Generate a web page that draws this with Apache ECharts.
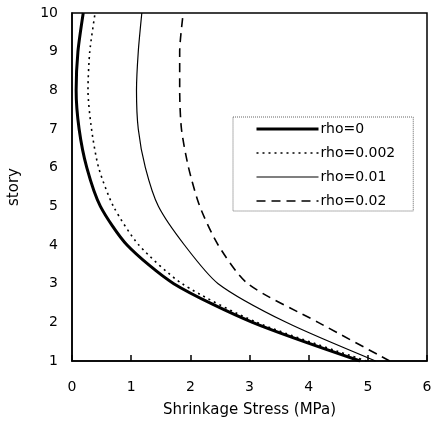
<!DOCTYPE html>
<html><head><meta charset="utf-8">
<script src="https://cdn.jsdelivr.net/npm/echarts@6/dist/echarts.min.js"></script>
<style>html,body{margin:0;padding:0;background:#fff}#c{width:433px;height:430px}</style>
</head><body><div id="c"></div>
<script>
var stories = [1,2,3,4,5,6,7,8,9,10];
var rho0    = [4.87,3.05,1.72,0.93,0.48,0.25,0.12,0.07,0.10,0.19];
var rho0002 = [4.98,3.12,1.86,1.13,0.70,0.45,0.33,0.27,0.30,0.39];
var rho001  = [5.13,3.62,2.47,1.90,1.46,1.24,1.12,1.09,1.12,1.18];
var rho002  = [5.37,4.16,2.97,2.47,2.16,1.97,1.85,1.82,1.82,1.88];
var seriesNames = ['rho=0','rho=0.002','rho=0.01','rho=0.02'];
var xTicks = [0,1,2,3,4,5,6];

function pts(arr){ return arr.map(function(v,i){ return [v, stories[i]]; }); }
var F = 'DejaVu Sans, Liberation Sans, sans-serif';
var styles = [
  {color:'#000',width:3},
  {color:'#000',width:1.6,type:[2,4]},
  {color:'#000',width:1.2},
  {color:'#000',width:1.6,type:[9,6]}
];
var chart = echarts.init(document.getElementById('c'), null, {renderer:'canvas'});
chart.setOption({
  animation:false,
  backgroundColor:'#fff',
  grid:{left:72,right:6,top:13,bottom:69,show:true,borderColor:'#000',borderWidth:1.5,containLabel:false,outerBoundsMode:'none'},
  xAxis:{type:'value',min:xTicks[0],max:xTicks[xTicks.length-1],interval:1,
    name:'Shrinkage Stress (MPa)',nameLocation:'middle',nameGap:42,
    nameTextStyle:{fontFamily:F,fontSize:15,color:'#000'},
    axisLine:{show:true,onZero:false,lineStyle:{color:'#000',width:1.5}},
    axisTick:{show:true,inside:false,length:-6,lineStyle:{color:'#000',width:1.5}},
    axisLabel:{fontFamily:F,fontSize:14,color:'#000',margin:19},
    splitLine:{show:false}},
  yAxis:{type:'value',min:1,max:10,interval:1,
    name:'story',nameLocation:'middle',nameGap:50,nameRotate:90,
    nameTextStyle:{fontFamily:F,fontSize:15,color:'#000'},
    axisLine:{show:true,onZero:false,lineStyle:{color:'#000',width:1.5}},
    axisTick:{show:false},
    axisLabel:{fontFamily:F,fontSize:14,color:'#000',margin:14},
    splitLine:{show:false}},
  legend:{left:233,top:117,orient:'vertical',itemWidth:62,itemHeight:14,itemGap:10,
    padding:[5,18,3,22],
    itemStyle:{opacity:0},
    textStyle:{fontFamily:F,fontSize:14,color:'#000',padding:[0,0,0,-3]},
    data:seriesNames.map(function(n,i){ return {name:n, lineStyle:styles[i]}; }),
    selectedMode:false, backgroundColor:'#fff',
    borderColor:'#666',borderWidth:1,borderType:'dotted'},
  series:seriesNames.map(function(n,i){
    return {name:n,type:'line',data:pts([rho0,rho0002,rho001,rho002][i]),symbol:'none',smooth:0.25,lineStyle:styles[i]};
  })
});
</script></body></html>
